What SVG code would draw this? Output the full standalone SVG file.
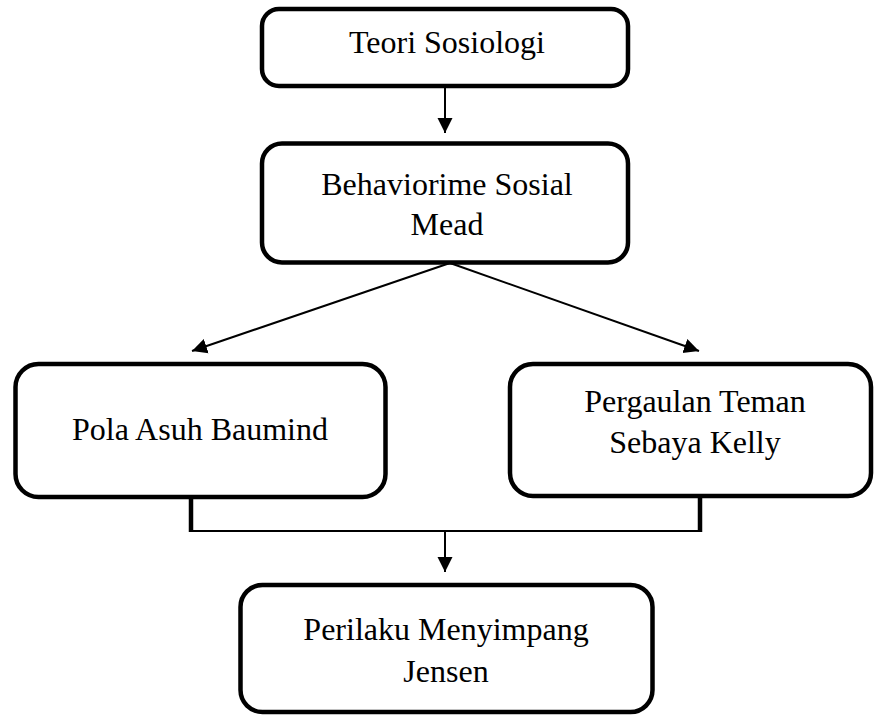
<svg xmlns="http://www.w3.org/2000/svg" width="875" height="720" viewBox="0 0 875 720">
<style>
.box{fill:#fff;stroke:#000;stroke-width:4.5}
.t{font-family:"Liberation Serif","Times New Roman",serif;font-size:32px;fill:#000;text-anchor:middle}
.ln{stroke:#000;stroke-width:2;fill:none}
.thk{stroke:#000;stroke-width:4.5;fill:none}
</style>
<defs>
<marker id="ah" markerUnits="userSpaceOnUse" markerWidth="16" markerHeight="16" viewBox="0 0 16 16" refX="15" refY="8" orient="auto">
<path d="M0,0.5 L15,8 L0,15.5 Z" fill="#000"/>
</marker>
</defs>
<rect width="875" height="720" fill="#fff"/>
<g id="connectors">
<line class="ln" x1="445" y1="86" x2="445" y2="133" marker-end="url(#ah)"/>
<line class="ln" x1="450" y1="263" x2="192" y2="351" marker-end="url(#ah)"/>
<line class="ln" x1="450" y1="263" x2="699" y2="351" marker-end="url(#ah)"/>
<line class="thk" x1="191" y1="496" x2="191" y2="532"/>
<line class="thk" x1="700" y1="496" x2="700" y2="532"/>
<line class="ln" x1="189" y1="531" x2="702" y2="531"/>
<line class="ln" x1="445" y1="531" x2="445" y2="572" marker-end="url(#ah)"/>
</g>
<g id="n1">
<rect class="box" x="262" y="9" width="366" height="77" rx="17"/>
<text class="t" x="447" y="53">Teori Sosiologi</text>
</g>
<g id="n2">
<rect class="box" x="262" y="143.5" width="366" height="119" rx="20"/>
<text class="t" x="447" y="195">Behaviorime Sosial</text>
<text class="t" x="447" y="235">Mead</text>
</g>
<g id="n3">
<rect class="box" x="15.5" y="364" width="370" height="133" rx="23"/>
<text class="t" x="200" y="440">Pola Asuh Baumind</text>
</g>
<g id="n4">
<rect class="box" x="510" y="364" width="361" height="132" rx="23"/>
<text class="t" x="695" y="412">Pergaulan Teman</text>
<text class="t" x="695" y="453">Sebaya Kelly</text>
</g>
<g id="n5">
<rect class="box" x="240.5" y="585" width="412" height="127" rx="22"/>
<text class="t" x="446" y="640">Perilaku Menyimpang</text>
<text class="t" x="446" y="682">Jensen</text>
</g>
</svg>
